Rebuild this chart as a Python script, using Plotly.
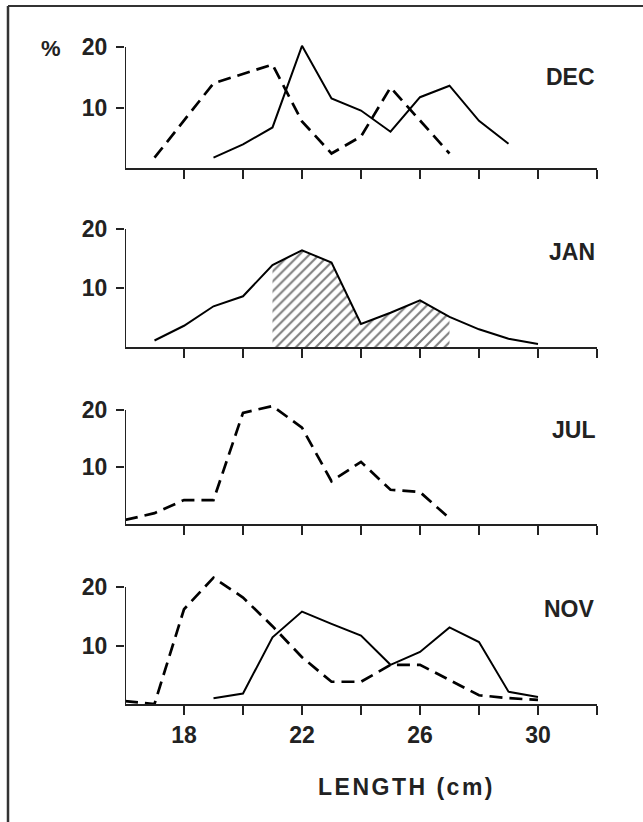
import plotly.graph_objects as go

# ---------------- data ----------------
months = ["DEC", "JAN", "JUL", "NOV"]

dec_solid_x = [19, 20, 21, 22, 23, 24, 25, 26, 27, 28, 29]
dec_solid_y = [1.7, 3.9, 6.7, 20.2, 11.5, 9.5, 6.0, 11.7, 13.6, 7.8, 4.0]
dec_dash_x = [17, 19, 21, 22, 23, 24, 25, 27]
dec_dash_y = [1.7, 14.0, 17.1, 7.7, 2.4, 5.2, 13.3, 2.4]

jan_x = [17, 18, 19, 20, 21, 22, 23, 24, 25, 26, 27, 28, 29, 30]
jan_y = [1.1, 3.6, 6.9, 8.6, 13.9, 16.4, 14.3, 3.9, 5.8, 7.9, 5.1, 3.0, 1.4, 0.5]
jan_hatch_range = (21, 27)

jul_x = [16, 17, 18, 19, 20, 21, 22, 23, 24, 25, 26, 27]
jul_y = [0.7, 1.9, 4.2, 4.2, 19.5, 20.7, 16.9, 7.5, 10.9, 6.0, 5.6, 1.0]

nov_dash_x = [16, 17, 18, 19, 20, 21, 22, 23, 24, 25, 26, 27, 28, 29, 30]
nov_dash_y = [0.5, 0.0, 16.2, 21.6, 18.2, 13.3, 8.0, 3.8, 3.8, 6.7, 6.7, 4.1, 1.5, 1.0, 0.7]
nov_solid_x = [19, 20, 21, 22, 23, 24, 25, 26, 27, 28, 29, 30]
nov_solid_y = [1.0, 1.8, 11.4, 15.8, 13.7, 11.7, 6.7, 8.9, 13.1, 10.6, 2.1, 1.2]

x_tick_vals = [18, 20, 22, 24, 26, 28, 30, 32]
x_tick_text = ["18", "", "22", "", "26", "", "30", ""]
y_tick_vals = [10, 20]
y_tick_text = ["10", "20"]
x_title = "LENGTH (cm)"

# ---------------- layout geometry ----------------
W, H = 643, 822
X_RANGE = [16, 32]
Y_RANGE = [0, 23]
x_left_px, x_right_px = 125, 597
# (baseline pixel, pixels per unit)
panel_geom = [(168, 6.05), (347, 5.9), (524, 5.7), (704, 5.85)]
label_y_px = [77, 252, 430, 609]

INK = "#222222"
FONT = "Liberation Sans"
DASH = "13px,7px"

fig = go.Figure()


def ref(i, kind):
    return kind if i == 0 else f"{kind}{i+1}"


def ax_name(i, kind):
    return kind + "axis" if i == 0 else f"{kind}axis{i+1}"


series = [
    [(dec_solid_x, dec_solid_y, "solid"), (dec_dash_x, dec_dash_y, "dash")],
    [(jan_x, jan_y, "solid")],
    [(jul_x, jul_y, "dash")],
    [(nov_dash_x, nov_dash_y, "dash"), (nov_solid_x, nov_solid_y, "solid")],
]

shapes = []
annotations = []
for i, m in enumerate(months):
    xr, yr = ref(i, "x"), ref(i, "y")
    base, unit = panel_geom[i]
    bottom = 1 - base / H
    top = 1 - (base - Y_RANGE[1] * unit) / H

    if i == 1:
        sel = [(x, y) for x, y in zip(jan_x, jan_y)
               if jan_hatch_range[0] <= x <= jan_hatch_range[1]]
        fig.add_trace(go.Scatter(
            x=[p[0] for p in sel], y=[p[1] for p in sel],
            xaxis=xr, yaxis=yr, mode="lines",
            line=dict(width=0, color=INK), fill="tozeroy",
            fillcolor="rgba(0,0,0,0)",
            fillpattern=dict(shape="/", fgcolor="black", bgcolor="white",
                             size=7, solidity=0.3),
            showlegend=False, hoverinfo="skip"))

    for xs, ys, style in series[i]:
        fig.add_trace(go.Scatter(
            x=xs, y=ys, xaxis=xr, yaxis=yr, mode="lines",
            line=dict(color="black", width=2.7 if style == "dash" else 2,
                      dash=DASH if style == "dash" else "solid"),
            showlegend=False))

    is_last = i == len(months) - 1
    fig.update_layout(**{
        ax_name(i, "x"): dict(
            domain=[x_left_px / W, x_right_px / W], range=X_RANGE,
            anchor=yr, showline=True, linecolor=INK, linewidth=2.4,
            ticks="outside", ticklen=9, tickwidth=1.8, tickcolor=INK,
            tickvals=x_tick_vals,
            ticktext=x_tick_text if is_last else [""] * len(x_tick_vals),
            tickfont=dict(family=FONT, size=23, color=INK, weight="bold"),
            showgrid=False, zeroline=False, fixedrange=True),
        ax_name(i, "y"): dict(
            domain=[bottom, top], range=Y_RANGE, anchor=xr,
            showline=False, ticks="outside", ticklen=8, tickwidth=1.8,
            tickcolor=INK, tickvals=y_tick_vals, ticktext=y_tick_text,
            tickfont=dict(family=FONT, size=23, color=INK, weight="bold"),
            ticklabelstandoff=4,
            showgrid=False, zeroline=False, fixedrange=True),
    })
    shapes.append(dict(type="line", xref=xr, yref=yr, x0=X_RANGE[0], x1=X_RANGE[0],
                       y0=0, y1=20, line=dict(color=INK, width=2)))
    annotations.append(dict(
        text=m, xref="paper", yref="paper", x=597 / W, y=1 - label_y_px[i] / H,
        xanchor="right", yanchor="middle", showarrow=False,
        font=dict(family=FONT, size=23, color=INK, weight="bold")))

annotations.append(dict(
    text="%", xref="paper", yref="paper", x=51 / W, y=1 - 49 / H,
    xanchor="center", yanchor="middle", showarrow=False,
    font=dict(family=FONT, size=22, color=INK, weight="bold")))
annotations.append(dict(
    text=f"<span style='letter-spacing:2.5px'>{x_title}</span>",
    xref="paper", yref="paper", x=406 / W, y=1 - 787 / H,
    xanchor="center", yanchor="middle", showarrow=False,
    font=dict(family=FONT, size=23, color=INK, weight="bold")))

# page frame (left and top rules)
shapes.append(dict(type="line", xref="paper", yref="paper",
                   x0=8 / W, x1=8 / W, y0=0, y1=1 - 6 / H,
                   line=dict(color="#333333", width=2.5)))
shapes.append(dict(type="line", xref="paper", yref="paper",
                   x0=8 / W, x1=1, y0=1 - 6 / H, y1=1 - 6 / H,
                   line=dict(color="#333333", width=2)))

fig.update_layout(
    width=W, height=H, margin=dict(l=0, r=0, t=0, b=0),
    paper_bgcolor="white", plot_bgcolor="rgba(0,0,0,0)",
    shapes=shapes, annotations=annotations, showlegend=False)

fig.write_html("out.html", config={"displayModeBar": False},
               post_script="document.body.style.margin='0';"
                           "document.body.style.overflow='hidden';")
